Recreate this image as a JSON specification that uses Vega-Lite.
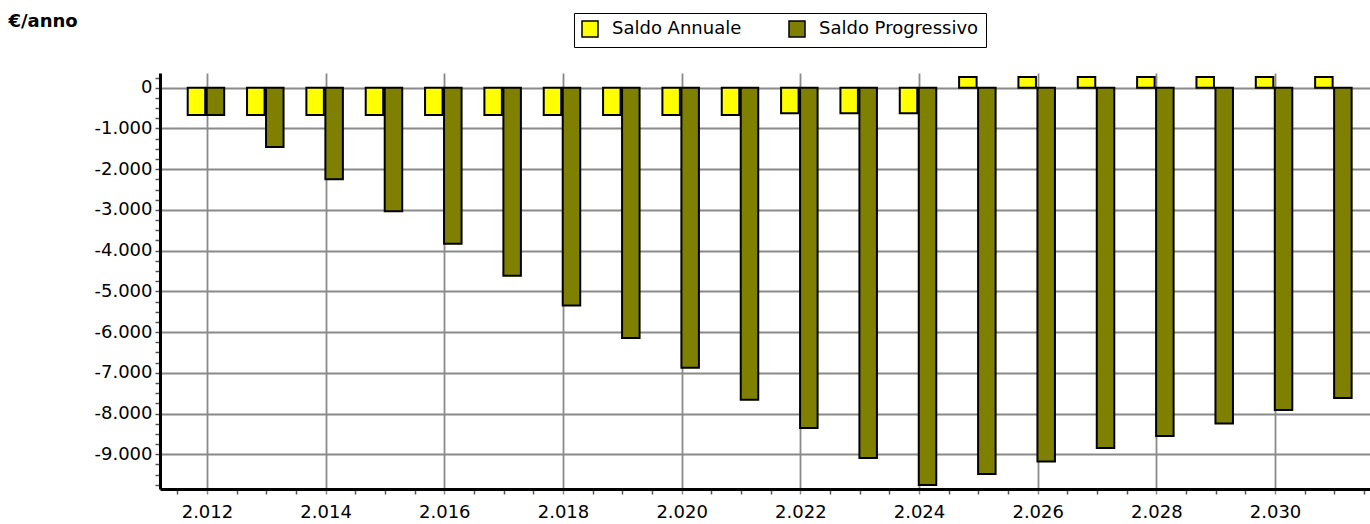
{
  "$schema": "https://vega.github.io/schema/vega-lite/v6.json",
  "width": 1210,
  "height": 416,
  "autosize": {"type": "none"},
  "padding": {"left": 160, "top": 73, "right": 0, "bottom": 35},
  "background": "white",
  "config": {
    "locale": {"number": {"decimal": ",", "thousands": ".", "grouping": [3], "currency": ["€", ""], "minus": "-"}},
    "view": {"stroke": null},
    "font": "DejaVu Sans"
  },
  "data": {
    "values": [
      {"anno": 2012, "serie": "Saldo Annuale", "valore": -670},
      {"anno": 2013, "serie": "Saldo Annuale", "valore": -670},
      {"anno": 2014, "serie": "Saldo Annuale", "valore": -670},
      {"anno": 2015, "serie": "Saldo Annuale", "valore": -670},
      {"anno": 2016, "serie": "Saldo Annuale", "valore": -670},
      {"anno": 2017, "serie": "Saldo Annuale", "valore": -670},
      {"anno": 2018, "serie": "Saldo Annuale", "valore": -670},
      {"anno": 2019, "serie": "Saldo Annuale", "valore": -670},
      {"anno": 2020, "serie": "Saldo Annuale", "valore": -670},
      {"anno": 2021, "serie": "Saldo Annuale", "valore": -670},
      {"anno": 2022, "serie": "Saldo Annuale", "valore": -630},
      {"anno": 2023, "serie": "Saldo Annuale", "valore": -630},
      {"anno": 2024, "serie": "Saldo Annuale", "valore": -630},
      {"anno": 2025, "serie": "Saldo Annuale", "valore": 265},
      {"anno": 2026, "serie": "Saldo Annuale", "valore": 265},
      {"anno": 2027, "serie": "Saldo Annuale", "valore": 265},
      {"anno": 2028, "serie": "Saldo Annuale", "valore": 265},
      {"anno": 2029, "serie": "Saldo Annuale", "valore": 265},
      {"anno": 2030, "serie": "Saldo Annuale", "valore": 265},
      {"anno": 2031, "serie": "Saldo Annuale", "valore": 265},
      {"anno": 2012, "serie": "Saldo Progressivo", "valore": -670},
      {"anno": 2013, "serie": "Saldo Progressivo", "valore": -1455},
      {"anno": 2014, "serie": "Saldo Progressivo", "valore": -2250},
      {"anno": 2015, "serie": "Saldo Progressivo", "valore": -3035},
      {"anno": 2016, "serie": "Saldo Progressivo", "valore": -3830},
      {"anno": 2017, "serie": "Saldo Progressivo", "valore": -4615},
      {"anno": 2018, "serie": "Saldo Progressivo", "valore": -5350},
      {"anno": 2019, "serie": "Saldo Progressivo", "valore": -6145},
      {"anno": 2020, "serie": "Saldo Progressivo", "valore": -6875},
      {"anno": 2021, "serie": "Saldo Progressivo", "valore": -7660},
      {"anno": 2022, "serie": "Saldo Progressivo", "valore": -8355},
      {"anno": 2023, "serie": "Saldo Progressivo", "valore": -9090},
      {"anno": 2024, "serie": "Saldo Progressivo", "valore": -9755},
      {"anno": 2025, "serie": "Saldo Progressivo", "valore": -9485},
      {"anno": 2026, "serie": "Saldo Progressivo", "valore": -9180},
      {"anno": 2027, "serie": "Saldo Progressivo", "valore": -8845},
      {"anno": 2028, "serie": "Saldo Progressivo", "valore": -8550},
      {"anno": 2029, "serie": "Saldo Progressivo", "valore": -8245},
      {"anno": 2030, "serie": "Saldo Progressivo", "valore": -7915},
      {"anno": 2031, "serie": "Saldo Progressivo", "valore": -7620}
    ]
  },
  "encoding": {
    "x": {
      "field": "anno",
      "type": "quantitative",
      "scale": {"domain": [2011.293, 2031.516], "nice": false, "zero": false},
      "axis": {
        "title": null,
        "values": [2011.5, 2012, 2012.5, 2013, 2013.5, 2014, 2014.5, 2015, 2015.5, 2016, 2016.5, 2017, 2017.5, 2018, 2018.5, 2019, 2019.5, 2020, 2020.5, 2021, 2021.5, 2022, 2022.5, 2023, 2023.5, 2024, 2024.5, 2025, 2025.5, 2026, 2026.5, 2027, 2027.5, 2028, 2028.5, 2029, 2029.5, 2030, 2030.5, 2031, 2031.5],
        "labelExpr": "datum.value % 2 == 0 ? format(datum.value, ',d') : ''",
        "labelOverlap": false,
        "labelFlush": false,
        "labelFont": "DejaVu Sans",
        "labelFontSize": 18,
        "labelColor": "black",
        "labelPadding": 9,
        "tickSize": 5,
        "tickWidth": 1.5,
        "tickColor": {"condition": {"test": "datum.value % 2 == 0", "value": "#888888"}, "value": "#555555"},
        "grid": true,
        "gridColor": "#8a8a8a",
        "gridWidth": 1.8,
        "gridOpacity": {"condition": {"test": "datum.value % 2 == 0", "value": 1}, "value": 0},
        "domainColor": "black",
        "domainWidth": 3
      }
    },
    "y": {
      "field": "valore",
      "type": "quantitative",
      "scale": {"domain": [-9853, 361], "nice": false, "zero": false},
      "axis": {
        "title": "€/anno",
        "titleAngle": 0,
        "titleAlign": "left",
        "titleBaseline": "alphabetic",
        "titleX": -152,
        "titleY": -47,
        "titleFont": "DejaVu Sans",
        "titleFontSize": 18,
        "titleFontWeight": "bold",
        "titleColor": "black",
        "values": [-9750, -9500, -9250, -9000, -8750, -8500, -8250, -8000, -7750, -7500, -7250, -7000, -6750, -6500, -6250, -6000, -5750, -5500, -5250, -5000, -4750, -4500, -4250, -4000, -3750, -3500, -3250, -3000, -2750, -2500, -2250, -2000, -1750, -1500, -1250, -1000, -750, -500, -250, 0, 250],
        "labelExpr": "datum.value % 1000 == 0 ? format(datum.value, ',d') : ''",
        "labelOverlap": false,
        "labelFont": "DejaVu Sans",
        "labelFontSize": 18,
        "labelColor": "black",
        "labelPadding": 3,
        "tickSize": 5,
        "tickWidth": 1.5,
        "tickColor": "#555555",
        "grid": true,
        "gridColor": "#8a8a8a",
        "gridWidth": 1.8,
        "gridOpacity": {"condition": {"test": "datum.value % 1000 == 0", "value": 1}, "value": 0},
        "domainColor": "black",
        "domainWidth": 3
      }
    },
    "color": {
      "field": "serie",
      "type": "nominal",
      "scale": {"domain": ["Saldo Annuale", "Saldo Progressivo"], "range": ["#FFFF00", "#808000"]},
      "legend": {
        "title": null,
        "orient": "none",
        "legendX": 414,
        "legendY": -60,
        "direction": "horizontal",
        "symbolType": "square",
        "symbolSize": 256,
        "symbolStrokeColor": "black",
        "symbolStrokeWidth": 1.5,
        "symbolOpacity": 1,
        "labelFont": "DejaVu Sans",
        "labelFontSize": 18,
        "labelColor": "black",
        "labelOffset": 13,
        "columnPadding": 44,
        "padding": 7,
        "fillColor": "white",
        "strokeColor": "black"
      }
    }
  },
  "layer": [
    {
      "transform": [{"filter": "datum.serie == 'Saldo Annuale'"}],
      "mark": {"type": "bar", "size": 17.5, "xOffset": -10.5, "stroke": "black", "strokeWidth": 2, "opacity": 1}
    },
    {
      "transform": [{"filter": "datum.serie == 'Saldo Progressivo'"}],
      "mark": {"type": "bar", "size": 17.5, "xOffset": 8.5, "stroke": "black", "strokeWidth": 2, "opacity": 1}
    }
  ]
}
